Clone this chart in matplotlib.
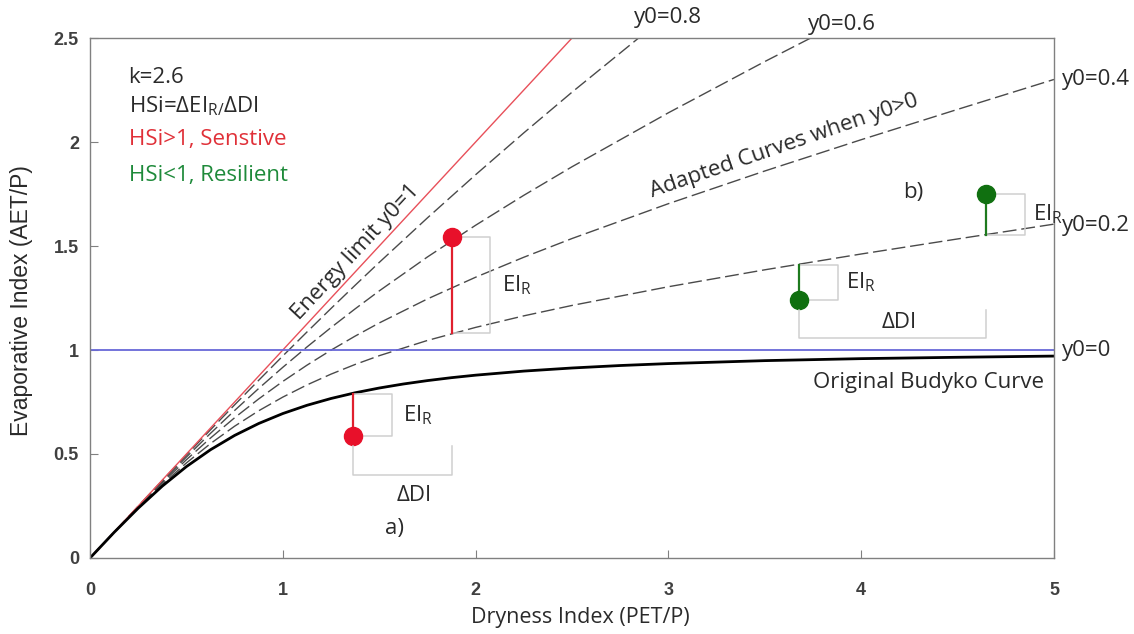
import matplotlib
matplotlib.use('Agg')
import matplotlib.pyplot as plt

plt.rcParams['font.family'] = ['Open Sans', 'DejaVu Sans']
plt.rcParams['mathtext.default'] = 'regular'

# dryness index grid (PET/P) for the original curve
di = [0, 0.125, 0.25, 0.375, 0.5, 0.625, 0.75, 0.875, 1, 1.125, 1.25, 1.375,
      1.5, 1.625, 1.75, 1.875, 2, 2.25, 2.5, 2.75, 3, 3.5, 4, 4.5, 5]
# original Budyko curve (y0=0, k=2.6)
budyko = [0, 0.1233, 0.2396, 0.3457, 0.4395, 0.5206, 0.5893, 0.6467, 0.6945,
          0.7341, 0.7669, 0.7943, 0.8172, 0.8365, 0.8529, 0.8670, 0.8790,
          0.8986, 0.9135, 0.9254, 0.9347, 0.9489, 0.9585, 0.9650, 0.9708]

# adapted curves (y0 > 0)
di_ad = [0, 0.25, 0.375, 0.5, 0.625, 0.75, 0.875, 1, 1.125, 1.25, 1.375, 1.5,
         1.75, 2, 2.25, 2.5, 3, 3.5, 4, 4.5, 5]
y0_02 = [0, 0.2427, 0.3543, 0.4571, 0.5502, 0.6337, 0.7079, 0.7736, 0.8320,
         0.8840, 0.9305, 0.9726, 1.0459, 1.1087, 1.1642, 1.2143, 1.3042,
         1.3856, 1.4616, 1.5340, 1.6052]
y0_04 = [0, 0.2454, 0.3619, 0.4726, 0.5768, 0.6743, 0.7649, 0.8490, 0.9269,
         0.9993, 1.0668, 1.1300, 1.2455, 1.3499, 1.4460, 1.5360, 1.7036,
         1.8607, 2.0111, 2.1569, 2.3008]
y0_06 = [0, 0.2476, 0.3681, 0.4855, 0.5994, 0.7093, 0.8152, 0.9169, 1.0144,
         1.1080, 1.1978, 1.2841, 1.4473, 1.5998, 1.7438, 1.8810, 2.1406,
         2.3869, 2.6245]
y0_08 = [0, 0.2492, 0.3727, 0.4952, 0.6164, 0.7363, 0.8546, 0.9714, 1.0864,
         1.1997, 1.3112, 1.4210, 1.6352, 1.8427, 2.0440, 2.2396, 2.6165]

energy_x = [0, 2.5]
energy_y = [0, 2.5]
water_limit = 1.0

# sensitive (red) and resilient (green) example points
sens_x = [1.366, 1.875]
sens_y = [0.587, 1.545]
sens_base = [0.79, 1.08]
res_x = [3.68, 4.65]
res_y = [1.24, 1.75]
res_base = [1.41, 1.553]

fig = plt.figure(figsize=(11.34, 6.34), dpi=100)
ax = fig.add_axes([0.0794, 0.1199, 0.85, 0.8201])

dash = dict(color='#4a4a4a', lw=1.0, dashes=(10, 3.5))
ax.plot(di_ad[:len(y0_08)], y0_08, **dash)
ax.plot(di_ad[:len(y0_06)], y0_06, **dash)
ax.plot(di_ad, y0_04, **dash)
ax.plot(di_ad, y0_02, **dash)
ax.plot(energy_x, energy_y, color='#e8505a', lw=1.0)
ax.axhline(water_limit, color='#6868d8', lw=1.3)
ax.plot(di, budyko, color='black', lw=2.0)

fs = 16
tc = '#2a2a2a'
gray = '#cfcfcf'
for x, y, b in zip(sens_x, sens_y, sens_base):
    ax.plot([x, x + 0.2, x + 0.2, x], [b, b, y, y], color=gray, lw=1.1)
    ax.plot([x, x], [y, b], color='#e0202e', lw=1.6)
    ax.plot(x, y, 'o', color='#e8102a', ms=13)
    ax.text(x + 0.26, (y + b) / 2, 'EI$_{R}$', fontsize=fs, color=tc, va='center')
for x, y, b in zip(res_x, res_y, res_base):
    ax.plot([x, x + 0.2, x + 0.2, x], [b, b, y, y], color=gray, lw=1.1)
    ax.plot([x, x], [y, b], color='#1e7a1e', lw=1.6)
    ax.plot(x, y, 'o', color='#107010', ms=13)
    ax.text(x + 0.24, (y + b) / 2, 'EI$_{R}$', fontsize=fs, color=tc, va='center')

# delta DI brackets
ax.plot([sens_x[0], sens_x[0], sens_x[1], sens_x[1]],
        [sens_y[0] - 0.05, sens_y[0] - 0.19, sens_y[0] - 0.19, sens_y[0] - 0.05],
        color=gray, lw=1.1)
ax.text(1.68, 0.3, 'ΔDI', fontsize=fs, color=tc, ha='center', va='center')
ax.text(1.58, 0.14, 'a)', fontsize=fs, color=tc, ha='center', va='center')
ax.plot([res_x[0], res_x[0], res_x[1], res_x[1]],
        [res_y[0] - 0.05, res_y[0] - 0.18, res_y[0] - 0.18, res_y[0] - 0.05],
        color=gray, lw=1.1)
ax.text(4.2, 1.13, 'ΔDI', fontsize=fs, color=tc, ha='center', va='center')
ax.text(4.27, 1.755, 'b)', fontsize=fs, color=tc, ha='center', va='center')

# text annotations
ax.text(0.2, 2.31, 'k=2.6', fontsize=fs, color=tc, va='center')
ax.text(0.2, 2.17, 'HSi=ΔEI$_{R/}$ΔDI', fontsize=fs, color=tc, va='center')
ax.text(0.2, 2.01, 'HSi>1, Senstive', fontsize=fs, color='#e03038', va='center')
ax.text(0.2, 1.84, 'HSi<1, Resilient', fontsize=fs, color='#1e8a3a', va='center')
ax.text(1.38, 1.47, 'Energy limit y0=1', fontsize=fs, color=tc,
        rotation=47, ha='center', va='center')
ax.text(3.6, 1.98, 'Adapted Curves when y0>0', fontsize=fs, color=tc,
        rotation=19, ha='center', va='center')
ax.text(4.35, 0.845, 'Original Budyko Curve', fontsize=fs, color=tc,
        ha='center', va='center')

# curve labels outside the frame
ax.text(5.04, 2.30, 'y0=0.4', fontsize=fs, color=tc, va='center', clip_on=False)
ax.text(5.04, 1.60, 'y0=0.2', fontsize=fs, color=tc, va='center', clip_on=False)
ax.text(5.04, 1.00, 'y0=0', fontsize=fs, color=tc, va='center', clip_on=False)
ax.text(2.823, 2.60, 'y0=0.8', fontsize=fs, color=tc, va='center', clip_on=False)
ax.text(3.724, 2.563, 'y0=0.6', fontsize=fs, color=tc, va='center', clip_on=False)

ax.set_xlim(0, 5)
ax.set_ylim(0, 2.5)
ax.set_xticks([0, 1, 2, 3, 4, 5])
ax.set_yticks([0, 0.5, 1, 1.5, 2, 2.5])
ax.set_yticklabels(['0', '0.5', '1', '1.5', '2', '2.5'])
ax.tick_params(direction='in', length=6, color='#808080', top=False, right=False,
               labelsize=13, labelcolor='#404040', pad=8)
ax.tick_params(axis='x', pad=17)
for lab in ax.get_xticklabels() + ax.get_yticklabels():
    lab.set_fontfamily('Liberation Sans')
    lab.set_fontweight('bold')
for s in ax.spines.values():
    s.set_color('#808080')
    s.set_linewidth(1.0)

ax.set_xlabel('Dryness Index (PET/P)', fontsize=15.5, color=tc)
ax.xaxis.set_label_coords(0.509, -0.094)
ax.set_ylabel('Evaporative Index (AET/P)', fontsize=16.5, color=tc,
              fontfamily='Liberation Sans')
ax.yaxis.set_label_coords(-0.059, 0.496)

fig.savefig('out.png', dpi=100, facecolor='white')
